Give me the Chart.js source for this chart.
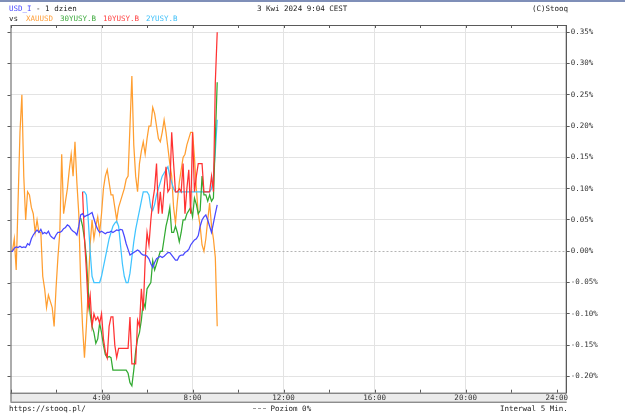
<!DOCTYPE html>
<html>
<head>
<meta charset="utf-8">
<script src="https://cdn.jsdelivr.net/npm/chart.js@4/dist/chart.umd.min.js"></script>
<style>
  body { margin: 0; background: #fff; width: 625px; height: 415px; overflow: hidden; position: relative;
         font-family: "DejaVu Sans Mono", monospace; font-size: 7.5px; color: #222; }
  #wrap { position: absolute; left: 0; top: 0; width: 625px; height: 415px; }
  #bar { position: absolute; left: 0; top: 0; width: 625px; height: 2px; background: #7f8fb8; }
  .t { position: absolute; white-space: pre; line-height: 1; }
</style>
</head>
<body>
<div id="wrap"><canvas id="usdChart" width="625" height="415"></canvas></div>
<div id="bar"></div>
<div class="t" style="left:9px;top:5px"><span style="color:#4b4bff">USD_I</span> - 1 dzien</div>
<div class="t" style="left:257px;top:5px">3 Kwi 2024 9:04 CEST</div>
<div class="t" style="left:532px;top:5px">(C)Stooq</div>
<div class="t" style="left:9px;top:15px">vs</div>
<div class="t" style="left:26px;top:15px;color:#ff9f3a">XAUUSD</div>
<div class="t" style="left:60px;top:15px;color:#3caa3c">30YUSY.B</div>
<div class="t" style="left:103px;top:15px;color:#ff4040">10YUSY.B</div>
<div class="t" style="left:146px;top:15px;color:#40c0f8">2YUSY.B</div>
<div class="t" style="left:9px;top:405px">https://stooq.pl/</div>
<div class="t" style="left:253px;top:405px"><span style="display:inline-block;width:13px;border-top:1px dashed #999;vertical-align:middle"></span> Poziom 0%</div>
<div class="t" style="left:500px;top:405px">Interwal 5 Min.</div>
<script>
// 5-minute bars, index 0 = 0:00
const stepMinutes = 5;

// USD_I (main series)
const usdIndex = [0.00,0.00,0.005,0.007,0.006,0.008,0.006,0.007,0.006,0.012,
  0.01,0.02,0.026,0.03,0.034,0.03,0.035,0.028,0.03,0.028,
  0.032,0.025,0.022,0.02,0.026,0.03,0.03,0.032,0.036,0.038,
  0.042,0.04,0.035,0.032,0.03,0.026,0.04,0.058,0.06,0.055,
  0.057,0.058,0.06,0.062,0.052,0.042,0.035,0.03,0.032,0.03,
  0.028,0.03,0.03,0.032,0.03,0.032,0.034,0.033,0.035,0.034,
  0.024,0.012,0.003,-0.006,-0.004,-0.002,0.0,0.002,0.0,-0.004,
  -0.006,-0.006,-0.008,-0.012,-0.02,-0.026,-0.018,-0.012,-0.01,-0.008,
  -0.01,-0.008,-0.005,-0.002,-0.002,-0.006,-0.01,-0.014,-0.014,-0.008,
  -0.006,-0.006,-0.002,0.0,0.003,0.01,0.014,0.018,0.02,0.025,
  0.04,0.05,0.055,0.058,0.05,0.04,0.03,0.045,0.06,0.074];

// XAUUSD
const xauusd = [0.00,0.00,0.02,-0.03,0.08,0.19,0.25,0.12,0.05,0.095,
  0.09,0.07,0.06,0.03,0.05,0.03,0.03,-0.04,-0.06,-0.09,
  -0.07,-0.08,-0.09,-0.12,-0.06,-0.01,0.03,0.155,0.06,0.08,
  0.10,0.13,0.155,0.12,0.175,0.11,0.06,-0.05,-0.12,-0.17,
  -0.12,-0.06,0.01,0.05,0.02,0.04,0.055,0.03,0.06,0.10,
  0.12,0.13,0.11,0.09,0.09,0.07,0.05,0.07,0.08,0.09,
  0.10,0.115,0.12,0.20,0.28,0.17,0.12,0.095,0.14,0.16,
  0.175,0.155,0.18,0.20,0.20,0.23,0.22,0.20,0.18,0.175,
  0.19,0.21,0.19,0.165,0.14,0.12,0.07,0.045,0.08,0.11,
  0.13,0.15,0.155,0.17,0.18,0.19,0.19,0.15,0.10,0.06,
  0.04,0.01,0.00,0.02,0.05,0.077,0.04,0.02,-0.01,-0.12];

// 30YUSY.B, starts at bar 37
const y30Start = 37;
const y30 = [0.053,0.04,0.02,-0.01,-0.065,-0.10,-0.12,-0.13,-0.147,-0.14,
  -0.115,-0.13,-0.15,-0.165,-0.17,-0.168,-0.17,-0.19,-0.19,-0.19,
  -0.19,-0.19,-0.19,-0.19,-0.19,-0.195,-0.21,-0.215,-0.19,-0.16,
  -0.14,-0.13,-0.11,-0.08,-0.09,-0.06,-0.055,-0.05,-0.015,-0.03,
  -0.02,-0.01,0.00,0.00,0.02,0.04,0.053,0.07,0.03,0.03,
  0.04,0.03,0.015,0.03,0.05,0.05,0.06,0.065,0.07,0.055,
  0.085,0.075,0.06,0.065,0.12,0.09,0.09,0.08,0.09,0.08,
  0.085,0.18,0.27];

// 10YUSY.B, starts at bar 38
const y10Start = 38;
const y10 = [0.095,0.02,-0.03,-0.09,-0.07,-0.12,-0.10,-0.11,-0.105,-0.115,
  -0.10,-0.14,-0.16,-0.17,-0.12,-0.105,-0.105,-0.15,-0.17,-0.155,
  -0.155,-0.155,-0.155,-0.155,-0.155,-0.105,-0.18,-0.18,-0.18,-0.11,
  -0.12,-0.06,-0.095,-0.015,0.03,0.01,0.05,0.08,0.10,0.14,
  0.06,0.095,0.06,0.10,0.135,0.095,0.10,0.19,0.14,0.095,
  0.095,0.10,0.095,0.14,0.06,0.10,0.13,0.06,0.19,0.095,
  0.12,0.14,0.14,0.14,0.095,0.095,0.095,0.095,0.12,0.095,
  0.27,0.35];

// 2YUSY.B, starts at bar 38
const y2Start = 38;
const y2 = [0.095,0.095,0.09,0.05,0.00,-0.04,-0.05,-0.05,-0.05,-0.05,
  -0.04,-0.025,-0.01,0.005,0.02,0.03,0.04,0.045,0.048,0.04,
  0.01,-0.02,-0.04,-0.05,-0.05,-0.035,-0.01,0.015,0.035,0.05,
  0.065,0.08,0.095,0.095,0.095,0.09,0.07,0.065,0.075,0.09,
  0.10,0.11,0.12,0.125,0.13,0.135,0.12,0.11,0.10,0.095,
  0.095,0.095,0.095,0.095,0.095,0.095,0.095,0.095,0.095,0.095,
  0.095,0.095,0.095,0.095,0.095,0.095,0.095,0.095,0.10,0.12,
  0.16,0.21];

const xTickHours = [0, 2, 4, 6, 8, 10, 12, 14, 16, 18, 20, 22, 24];
const yTickValues = [-0.20, -0.15, -0.10, -0.05, 0.00, 0.05, 0.10, 0.15, 0.20, 0.25, 0.30, 0.35];

const monoFont = { family: "'DejaVu Sans Mono', monospace", size: 7.5 };

function toPoints(vals, start) {
  return vals.map((v, k) => ({ x: (start + k) * stepMinutes / 60, y: v }));
}

// axis frame, inward ticks, bottom band and zero line
const stooqFrame = {
  id: "stooqFrame",
  beforeDraw(chart) {
    const { ctx, chartArea: a } = chart;
    ctx.save();
    ctx.fillStyle = "#ebebeb";
    ctx.fillRect(a.left, a.bottom, a.right - a.left, 9);
    ctx.restore();
  },
  beforeDatasetsDraw(chart) {
    const { ctx, chartArea: a, scales } = chart;
    const y0 = Math.round(scales.y.getPixelForValue(0)) + 0.5;
    ctx.save();
    ctx.strokeStyle = "#b4b4b4";
    ctx.setLineDash([2, 2]);
    ctx.beginPath();
    ctx.moveTo(a.left, y0);
    ctx.lineTo(a.right, y0);
    ctx.stroke();
    ctx.restore();
  },
  afterDraw(chart) {
    const { ctx, chartArea: a, scales } = chart;
    ctx.save();
    ctx.strokeStyle = "#5a5a5a";
    ctx.lineWidth = 1;
    ctx.strokeRect(a.left + 0.5, a.top + 0.5, a.right - a.left - 1, a.bottom - a.top);
    ctx.beginPath();
    ctx.moveTo(a.left, a.bottom + 9.5);
    ctx.lineTo(a.right, a.bottom + 9.5);
    ctx.moveTo(a.left + 0.5, a.bottom);
    ctx.lineTo(a.left + 0.5, a.bottom + 9);
    xTickHours.forEach((h) => {
      const px = Math.round(scales.x.getPixelForValue(h)) + 0.5;
      ctx.moveTo(px, a.top);
      ctx.lineTo(px, a.top + 3);
      ctx.moveTo(px, a.bottom);
      ctx.lineTo(px, a.bottom - 3);
    });
    yTickValues.forEach((v) => {
      const py = Math.round(scales.y.getPixelForValue(v)) + 0.5;
      ctx.moveTo(a.left - 3, py);
      ctx.lineTo(a.left, py);
    });
    ctx.stroke();
    ctx.restore();
  },
};

const ctx = document.getElementById("usdChart");

new Chart(ctx, {
  type: "line",
  data: {
    datasets: [
      { label: "USD_I", data: toPoints(usdIndex, 0), borderColor: "rgb(72,72,255)", order: 0 },
      { label: "10YUSY.B", data: toPoints(y10, y10Start), borderColor: "rgb(255,50,50)", order: 1 },
      { label: "30YUSY.B", data: toPoints(y30, y30Start), borderColor: "rgb(50,170,50)", order: 2 },
      { label: "2YUSY.B", data: toPoints(y2, y2Start), borderColor: "rgb(64,196,255)", order: 3 },
      { label: "XAUUSD", data: toPoints(xauusd, 0), borderColor: "rgb(255,158,48)", order: 4 },
    ],
  },
  options: {
    responsive: false,
    animation: false,
    events: [],
    elements: {
      line: { borderWidth: 1.25, tension: 0 },
      point: { radius: 0 },
    },
    layout: { padding: { top: 25, left: 10.5, right: 0, bottom: 13.3 } },
    plugins: { legend: { display: false }, tooltip: { enabled: false } },
    scales: {
      x: {
        type: "linear",
        min: 0,
        max: 24.44,
        afterBuildTicks: (s) => { s.ticks = xTickHours.map((v) => ({ value: v })); },
        afterFit: (s) => { s.height = 9; },
        border: { display: false },
        grid: {
          drawTicks: false,
          color: (c) => (c.tick && c.tick.value % 4 === 0 && c.tick.value > 0 && c.tick.value < 24) ? "#e3e3e3" : "rgba(0,0,0,0)",
        },
        ticks: {
          padding: 1,
          autoSkip: false,
          maxRotation: 0,
          font: monoFont,
          color: "#333",
          callback: (v) => (v % 4 === 0 && v > 0 ? v + ":00" : ""),
        },
      },
      y: {
        position: "right",
        min: -0.226,
        max: 0.3615,
        afterBuildTicks: (s) => { s.ticks = yTickValues.map((v) => ({ value: v })); },
        afterFit: (s) => { s.width = 58.3; },
        border: { display: true, color: "#5a5a5a" },
        grid: {
          tickLength: 3,
          tickColor: "#5a5a5a",
          color: (c) => (c.tick && Math.abs(c.tick.value) < 1e-9 ? "rgba(0,0,0,0)" : "#e3e3e3"),
        },
        ticks: {
          padding: 1,
          font: monoFont,
          color: "#333",
          callback: (v) => v.toFixed(2) + "%",
        },
      },
    },
  },
  plugins: [stooqFrame],
});
</script>
</body>
</html>
